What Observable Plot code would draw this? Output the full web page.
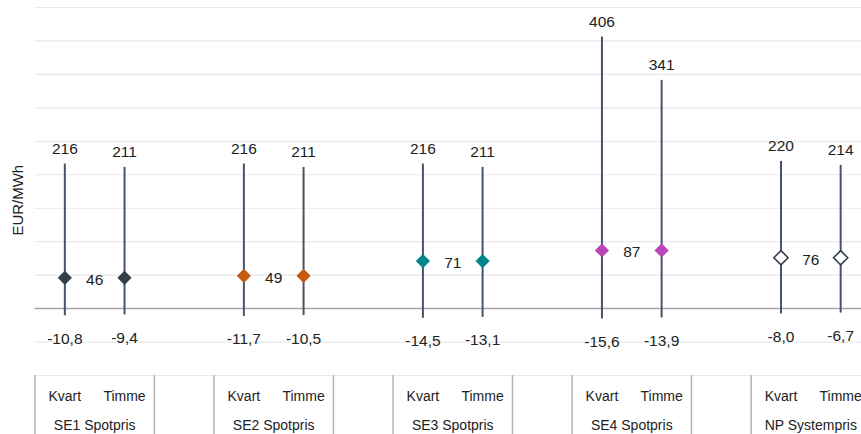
<!DOCTYPE html>
<html>
<head>
<meta charset="utf-8">
<script src="https://cdn.jsdelivr.net/npm/d3@7"></script>
<script src="https://cdn.jsdelivr.net/npm/@observablehq/plot@0.6"></script>
<style>
  html, body { margin: 0; padding: 0; background: #fff; }
  #chart svg { display: block; }
</style>
</head>
<body>
<div id="chart"></div>
<script>
// ---- data ----
const groups = ["SE1 Spotpris", "SE2 Spotpris", "SE3 Spotpris", "SE4 Spotpris", "NP Systempris"];
const types = ["Kvart", "Timme"];
const maxKvart = [216, 216, 216, 406, 220];
const maxTimme = [211, 211, 211, 341, 214];
const minKvart = [-10.8, -11.7, -14.5, -15.6, -8.0];
const minTimme = [-9.4, -10.5, -13.1, -13.9, -6.7];
const meanValue = [46, 49, 71, 87, 76];
const diamondFill = ["#333f4a", "#c55a11", "#00868b", "#b946b9", "#ffffff"];
const yTicks = [-100, -50, 0, 50, 100, 150, 200, 250, 300, 350, 400, 450];
const yTitle = "EUR/MWh";

// ---- build table: each group takes 3 slots (Kvart, Timme, gap) ----
const rows = [];
groups.forEach((g, gi) => {
  types.forEach((t, ti) => {
    rows.push({
      group: g, type: t, gi,
      slot: gi * 3 + ti,
      max: ti === 0 ? maxKvart[gi] : maxTimme[gi],
      min: ti === 0 ? minKvart[gi] : minTimme[gi],
      mean: meanValue[gi],
      fill: diamondFill[gi]
    });
  });
});
const groupRows = groups.map((g, gi) => ({group: g, mid: gi * 3 + 0.5, mean: meanValue[gi]}));
const separators = [];
groups.forEach((g, gi) => { separators.push(gi * 3 - 0.5, gi * 3 + 1.5); });

const fmt = v => d3.format(".1f")(v).replace(".", ",").replace("−", "-");
const font = "Liberation Sans, Arial, sans-serif";
const txt = "#222";

const chart = Plot.plot({
  width: 861,
  height: 434,
  marginTop: 7,
  marginBottom: 59,
  marginLeft: 34.5,
  marginRight: 0,
  style: {fontFamily: font, fontSize: "14px", background: "#fff", overflow: "visible"},
  x: {type: "linear", domain: [-0.5, 13.5], range: [34.5, 870], axis: null},
  y: {domain: [-100, 450], range: [375, 7], axis: null},
  marks: [
    // gridlines
    Plot.ruleY(yTicks.filter(d => d !== 0), {stroke: "#e9e9e9", strokeWidth: 1.2}),
    Plot.ruleY([0], {stroke: "#a6a6a6", strokeWidth: 1.5}),
    // category box separators
    Plot.ruleX(separators, {y1: -100, y2: -200, stroke: "#b4b4b4", strokeWidth: 1.5}),
    // range lines
    Plot.ruleX(rows, {x: "slot", y1: "min", y2: "max", stroke: "#44546a", strokeWidth: 2}),
    // mean diamonds
    Plot.dot(rows, {x: "slot", y: "mean", symbol: "diamond2", r: 6.4, fill: "fill",
      stroke: d => d.gi === 4 ? "#333f4a" : "none", strokeWidth: 1.6}),
    // value labels
    Plot.text(rows, {x: "slot", y: "max", text: d => String(d.max), dy: -15, fill: txt, fontSize: 15.5}),
    Plot.text(rows, {x: "slot", y: "min", text: d => fmt(d.min), dy: 23, fill: txt, fontSize: 15.5}),
    Plot.text(groupRows, {x: "mid", y: "mean", text: d => String(d.mean), dy: 2, fill: txt, fontSize: 15.5}),
    // category axis labels
    Plot.text(rows, {x: "slot", text: "type", frameAnchor: "bottom", dy: 25, fill: txt, fontSize: 14}),
    Plot.text(groupRows, {x: "mid", text: "group", frameAnchor: "bottom", dy: 54, fill: txt, fontSize: 14}),
    // y axis title
    Plot.text([yTitle], {x: () => -0.5, y: () => 162, rotate: -90, dx: -17, fill: txt, fontSize: 15})
  ]
});
document.getElementById("chart").appendChild(chart);
</script>
</body>
</html>
